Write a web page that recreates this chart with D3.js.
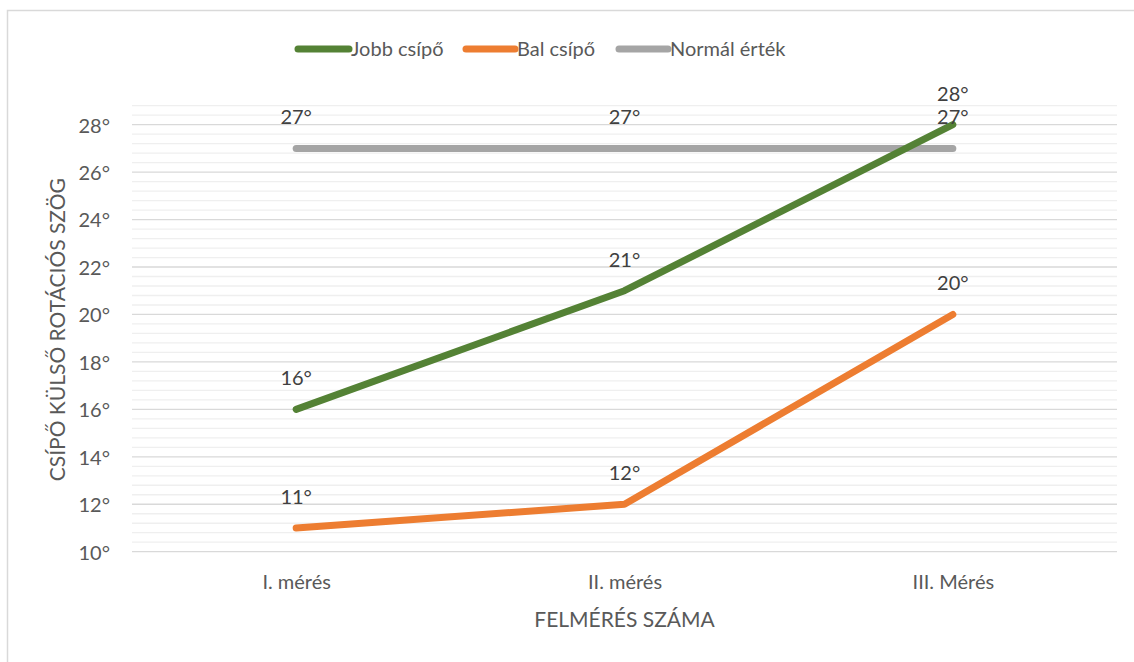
<!DOCTYPE html>
<html>
<head>
<meta charset="utf-8">
<script src="https://cdn.jsdelivr.net/npm/d3@7"></script>
<style>
  html, body { margin: 0; padding: 0; background: #fff; }
  svg { display: block; font-family: Lato, "Open Sans", sans-serif; }
</style>
</head>
<body>
<svg id="chart" width="1134" height="662"></svg>
<script>
// Measurement occasions
const categories = ["I. mérés", "II. mérés", "III. Mérés"];
// Hip external rotation, degrees
const jobbCsipo = [16, 21, 28];
const balCsipo = [11, 12, 20];
const normalErtek = [27, 27, 27];
const seriesNames = ["Jobb csípő", "Bal csípő", "Normál érték"];
const seriesColors = ["#548235", "#ED7D31", "#A5A5A5"];
const majorTicks = [10, 12, 14, 16, 18, 20, 22, 24, 26, 28];
const yMin = 10, yMax = 28.8, minorStep = 0.4;

const series = [
  { name: seriesNames[0], values: jobbCsipo, color: seriesColors[0] },
  { name: seriesNames[1], values: balCsipo, color: seriesColors[1] },
  { name: seriesNames[2], values: normalErtek, color: seriesColors[2] }
];

const svg = d3.select("#chart");
const W = 1134, H = 662;
const plot = { left: 132, right: 1117, top: 105.7, bottom: 551.7 };
const fs = "20px";

// chart frame
svg.append("rect")
  .attr("x", 7.5).attr("y", 10.5)
  .attr("width", W).attr("height", H)
  .attr("fill", "#fff").attr("stroke", "#d9d9d9").attr("stroke-width", 1.5);

const x = d3.scalePoint().domain(categories)
  .range([plot.left, plot.right]).padding(0.5);
const y = d3.scaleLinear().domain([yMin, yMax]).range([plot.bottom, plot.top]);

// minor gridlines
const minorVals = d3.range(0, Math.round((yMax - yMin) / minorStep) + 1)
  .map(i => +(yMin + i * minorStep).toFixed(2))
  .filter(v => !majorTicks.includes(v));
svg.append("g").selectAll("line").data(minorVals).join("line")
  .attr("x1", plot.left).attr("x2", plot.right)
  .attr("y1", d => y(d)).attr("y2", d => y(d))
  .attr("stroke", "#efefef").attr("stroke-width", 1.3);

// major gridlines
svg.append("g").selectAll("line").data(majorTicks).join("line")
  .attr("x1", plot.left).attr("x2", plot.right)
  .attr("y1", d => y(d)).attr("y2", d => y(d))
  .attr("stroke", "#d9d9d9").attr("stroke-width", 1.3);

// y axis labels
const yAxis = d3.axisLeft(y).tickValues(majorTicks)
  .tickFormat(d => d + "°").tickSize(0).tickPadding(0);
const gy = svg.append("g").attr("transform", `translate(${plot.left - 22},1)`).call(yAxis);
gy.select(".domain").remove();
gy.selectAll("text").attr("fill", "#595959").style("font-size", fs)
  .style("font-family", "Lato, 'Open Sans', sans-serif");

// x axis labels
const xAxis = d3.axisBottom(x).tickSize(0).tickPadding(0);
const gx = svg.append("g").attr("transform", `translate(0,${plot.bottom + 23})`).call(xAxis);
gx.select(".domain").remove();
gx.selectAll("text").attr("fill", "#595959").style("font-size", fs)
  .style("font-family", "Lato, 'Open Sans', sans-serif");

// axis titles
svg.append("text")
  .attr("transform", `translate(65,${(plot.top + plot.bottom) / 2 + 1}) rotate(-90)`)
  .attr("text-anchor", "middle").attr("fill", "#595959").style("font-size", "21px")
  .text("CSÍPŐ KÜLSŐ ROTÁCIÓS SZÖG");
svg.append("text")
  .attr("x", (plot.left + plot.right) / 2).attr("y", 627)
  .attr("text-anchor", "middle").attr("fill", "#595959").style("font-size", "21px")
  .text("FELMÉRÉS SZÁMA");

// series lines
const line = d3.line().x((d, i) => x(categories[i])).y(d => y(d));
svg.append("g").selectAll("path").data(series.slice().reverse()).join("path")
  .attr("d", d => line(d.values))
  .attr("fill", "none").attr("stroke", d => d.color)
  .attr("stroke-width", 7).attr("stroke-linecap", "round").attr("stroke-linejoin", "round");

// data labels
series.forEach(s => {
  svg.append("g").selectAll("text").data(s.values).join("text")
    .attr("x", (d, i) => x(categories[i]))
    .attr("y", d => y(d) - 24)
    .attr("text-anchor", "middle").attr("fill", "#404040").style("font-size", fs)
    .text(d => d + "°");
});

// legend
const legendItems = [
  { x0: 298, x1: 349, tx: 351 },
  { x0: 466, x1: 515, tx: 517 },
  { x0: 619, x1: 668, tx: 670 }
];
const lg = svg.append("g");
series.forEach((s, i) => {
  const it = legendItems[i];
  lg.append("line").attr("x1", it.x0).attr("x2", it.x1).attr("y1", 49).attr("y2", 49)
    .attr("stroke", s.color).attr("stroke-width", 7).attr("stroke-linecap", "round");
  lg.append("text").attr("x", it.tx).attr("y", 56).attr("fill", "#595959")
    .style("font-size", fs).text(s.name);
});
</script>
</body>
</html>
